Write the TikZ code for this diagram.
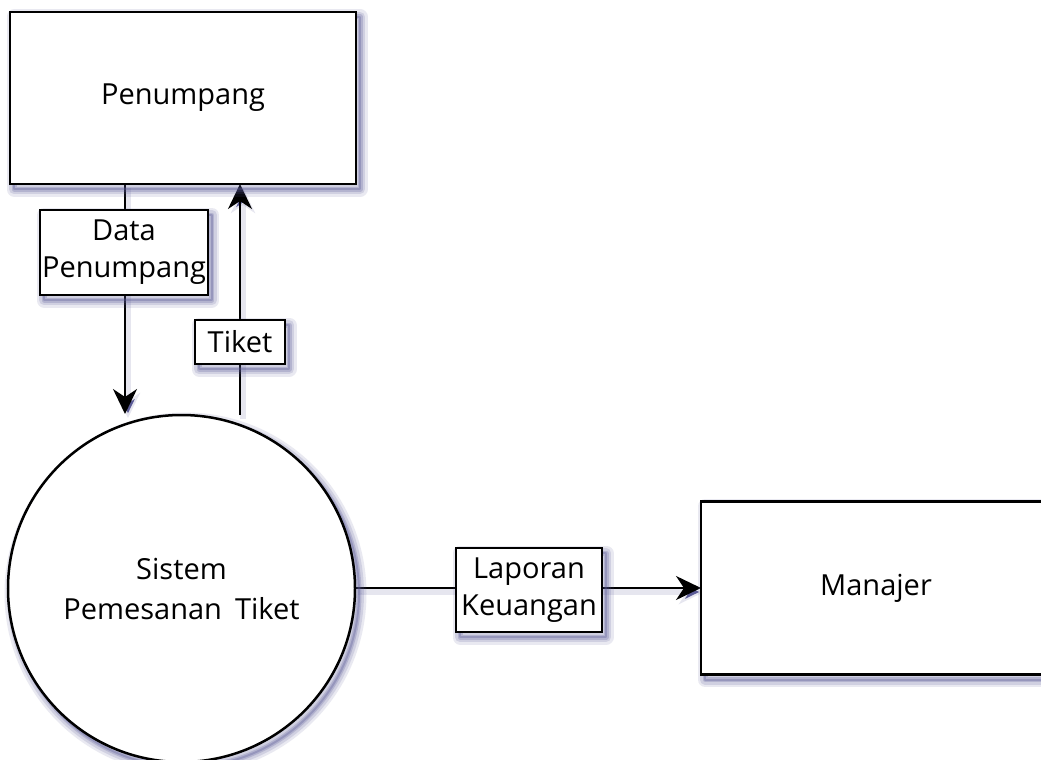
\documentclass[tikz,border=0pt]{standalone}
\usepackage{fontspec}
\setmainfont{Open Sans}
\usetikzlibrary{arrows.meta}
\definecolor{shadowc}{RGB}{90,90,150}
\tikzset{
  shl/.style 2 args={preaction={draw=shadowc, draw opacity=#1, line width=#2, line join=round, transform canvas={shift={(4pt,-5pt)}}}},
  sh/.style={shl={0.13}{15pt}, shl={0.17}{10pt}, shl={0.24}{5pt}, shl={0.32}{2pt}},
  entity/.style={draw=black, line width=2.8pt, fill=white, rectangle, inner sep=0pt, sh},
  proc/.style={draw=black, line width=2.5pt, fill=white, circle, inner sep=0pt, sh},
  lbl/.style={draw=black, line width=2.8pt, fill=white, rectangle, inner sep=2pt, align=center, sh, font=\fontsize{29}{37}\selectfont},
  flow/.style={line width=2.6pt, -{Stealth[length=25pt,width=24pt,inset=8pt]},
    preaction={draw=shadowc, draw opacity=0.15, line width=6pt, transform canvas={shift={(3pt,-4pt)}}}},
}
\begin{document}
\begin{tikzpicture}[x=1pt,y=-1pt]
\useasboundingbox (0,0) rectangle (1041,760);
\clip (0,0) rectangle (1041,760);
\fill[white] (0,0) rectangle (1041,760);
\coordinate (pa) at (125,184);
\coordinate (ca) at (125,414);
\coordinate (pb) at (240,184);
\coordinate (cb) at (240,415);
\coordinate (se) at (355,588);
\coordinate (mw) at (701,588);
\draw[flow] (pa) -- (ca);
\draw[flow] (cb) -- (pb);
\draw[flow] (se) -- (mw);
\node[entity, minimum width=346pt, minimum height=172pt, font=\fontsize{29}{37}\selectfont] (pen) at (183,98) {Penumpang};
\node[proc, minimum size=347pt, align=center, font=\fontsize{29}{40}\selectfont] (sys) at (181.5,588.5) {Sistem\\Pemesanan\hspace{0.45em}Tiket};
\node[entity, minimum width=350pt, minimum height=173pt, font=\fontsize{29}{37}\selectfont] (man) at (876,588) {Manajer};
\node[lbl, minimum width=164pt, minimum height=85pt] (ldp) at (124,252.5) {Data\\Penumpang};
\node[lbl, minimum width=90pt, minimum height=44pt] (ltk) at (240,342) {Tiket};
\node[lbl, minimum width=146pt, minimum height=84pt] (llk) at (529,590) {Laporan\\Keuangan};
\end{tikzpicture}
\end{document}
